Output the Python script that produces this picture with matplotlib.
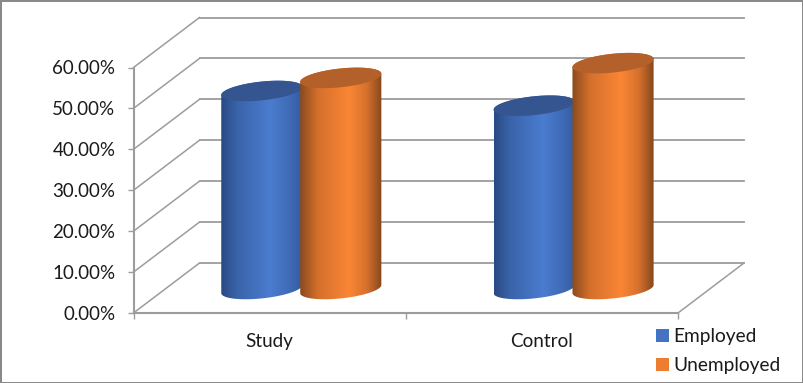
import numpy as np
import matplotlib
matplotlib.use("Agg")
import matplotlib.pyplot as plt
from matplotlib.colors import LinearSegmentedColormap
from matplotlib.patches import Patch, Polygon, Rectangle
from matplotlib.transforms import Affine2D

categories = ["Study", "Control"]
series_names = ["Employed", "Unemployed"]
employed = [48.4, 44.8]
unemployed = [51.6, 55.2]
y_ticks = [0, 10, 20, 30, 40, 50, 60]
y_labels = ["0.00%", "10.00%", "20.00%", "30.00%", "40.00%", "50.00%", "60.00%"]

W, H, DPI = 804, 383, 100
plt.rcParams["font.family"] = ["Lato", "DejaVu Sans"]
GRID = "#9c9c9c"
TEXT = "#1a1a1a"
DX, DY = 66, 50  # full depth in pixels

fig = plt.figure(figsize=(W / DPI, H / DPI), dpi=DPI, facecolor="white")
L, R, T, B = 133.5, 678, 67.5, 313
ax = fig.add_axes([L / W, 1 - B / H, (R - L) / W, (B - T) / H])
ax.set_facecolor("none")
for s in ax.spines.values():
    s.set_visible(False)
ax.set_xlim(0, 2)
ax.set_ylim(0, 60)


def depth(frac):
    return ax.transData + Affine2D().translate(DX * frac, DY * frac)


back = depth(1.0)
mid = depth(0.48)
lw = 1.1
# gridlines: back wall, side wall
for v in y_ticks:
    ax.plot([0, 2], [v, v], transform=back, color=GRID, lw=lw + 0.2, clip_on=False, zorder=1)
    a = ax.transData.transform((0, v))
    b = back.transform((0, v))
    ax.plot([a[0], b[0]], [a[1], b[1]], transform=None, color=GRID, lw=lw, clip_on=False, zorder=1)
# floor
ax.plot([0, 2], [0, 0], color=GRID, lw=1.5, clip_on=False, zorder=1)
a = ax.transData.transform((2, 0))
b = back.transform((2, 0))
ax.plot([a[0], b[0]], [a[1], b[1]], transform=None, color=GRID, lw=lw, clip_on=False, zorder=1)
ax.plot([0, 0], [0, 60], color=GRID, lw=1.5, clip_on=False, zorder=1)

BAR_W = 0.298
BAR_STEP = 0.29
SEMI_B = 2.3
TILT = 1.0
cmaps = [
    (LinearSegmentedColormap.from_list("b", [(0, "#294a82"), (0.2, "#3a64ab"), (0.6, "#4a7ccf"), (0.85, "#3f6ab5"), (1, "#335a9c")]), "#34558f"),
    (LinearSegmentedColormap.from_list("o", [(0, "#8a4a1e"), (0.22, "#d5702c"), (0.6, "#fb8635"), (0.82, "#d5702d"), (1, "#85481d")]), "#b4602a"),
]
t = np.linspace(0, 2 * np.pi, 121)
grad = np.linspace(0, 1, 256).reshape(1, -1)


def ring(cx, y, theta):
    a = BAR_W / 2
    return cx + a * np.cos(theta), y + SEMI_B * np.sin(theta) + TILT * np.cos(theta)


for j, values in enumerate([employed, unemployed]):
    cmap, top_col = cmaps[j]
    for i, v in enumerate(values):
        cx = i + 0.5 + (j - 0.5) * BAR_STEP
        bx, by = ring(cx, 0, np.linspace(np.pi, 2 * np.pi, 60))
        tx, ty = ring(cx, v, np.linspace(0, np.pi, 60))
        verts = np.column_stack([np.r_[bx, tx], np.r_[by, ty]])
        im = ax.imshow(grad, cmap=cmap, extent=[cx - BAR_W / 2, cx + BAR_W / 2, -5, v + 5],
                       aspect="auto", transform=mid, zorder=3 + j, interpolation="bilinear")
        clip = Polygon(verts, closed=True, transform=mid, facecolor="none", edgecolor="none")
        ax.add_patch(clip)
        im.set_clip_path(clip)
        im.set_clip_box(fig.bbox)
        ex, ey = ring(cx, v, t)
        ax.fill(ex, ey, color=top_col, transform=mid, zorder=3.5 + j, clip_on=False, lw=0)

ax.set_yticks(y_ticks, y_labels)
ax.set_xticks([0, 1, 2], [])
ax.set_xticks([0.5, 1.5], categories, minor=True)
ax.tick_params(axis="y", length=4.3, width=1, color=GRID, pad=8.7, labelsize=13.5, labelcolor=TEXT)
ax.tick_params(axis="x", which="major", length=4.3, width=1, color=GRID)
ax.tick_params(axis="x", which="minor", length=0, pad=14.5, labelsize=13.6, labelcolor=TEXT)
for lab in ax.get_yticklabels():
    lab.set_y(lab.get_position()[1])

handles = [Patch(facecolor="#4472c4", label=series_names[0]), Patch(facecolor="#ed7d31", label=series_names[1])]
fig.legend(handles=handles, loc="upper left", bbox_to_anchor=(656 / W, 1 - 328 / H), frameon=False,
           fontsize=13.8, handlelength=0.66, handleheight=0.66, handletextpad=0.25, labelspacing=0.62,
           borderpad=0, borderaxespad=0, labelcolor=TEXT)

fig.add_artist(Rectangle((0.5 / W, 0.5 / H), (W - 1) / W, (H - 1) / H, transform=fig.transFigure,
                         fill=False, edgecolor="#868686", lw=1.4))
fig.savefig("out.png", dpi=DPI, facecolor="white")
